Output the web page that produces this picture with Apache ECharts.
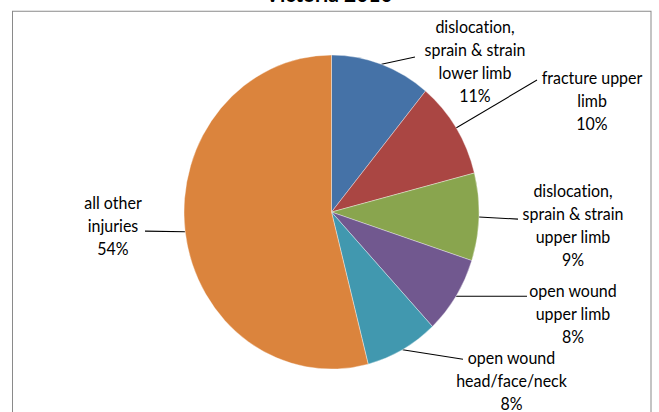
<!DOCTYPE html>
<html>
<head>
<meta charset="utf-8">
<script src="https://cdn.jsdelivr.net/npm/echarts@6/dist/echarts.min.js"></script>
<style>
  html, body { margin: 0; padding: 0; background: #fff; overflow: hidden; }
  #wrap { width: 659px; height: 412px; overflow: hidden; position: relative; }
  /* chart is laid out at 387px tall and stretched to fill the 412px frame */
  #chart { width: 659px; height: 387px; transform: scaleY(1.0646); transform-origin: 0 0; }
  #chart text { font-variant-ligatures: none !important; font-feature-settings: "liga" 0, "clig" 0 !important; }
</style>
</head>
<body>
<div id="wrap"><div id="chart"></div></div>
<script>
const chartTitle = 'Victoria 2010';
const categories = [
  'dislocation,\nsprain & strain\nlower limb',
  'fracture upper\nlimb',
  'dislocation,\nsprain & strain\nupper limb',
  'open wound\nupper limb',
  'open wound\nhead/face/neck',
  'all other\ninjuries'
];
const shares = [11, 10, 9, 8, 8, 54];
const sliceColors = ['#4572A7', '#AA4643', '#89A54E', '#71588F', '#4198AF', '#DB843D'];

// label block centres and leader-line end points (chart pixels)
const labelCentres = [[475, 57.5], [592, 95], [573, 211.5], [573, 295], [511.5, 358], [113, 212]];
const leaderEnds = [[415, 53.6], [537, 75.2], [518, 205.8], [527, 278.2], [463, 337.4], [145, 217.1]];

const chart = echarts.init(document.getElementById('chart'), null, { renderer: 'svg' });

chart.setOption({
  animation: false,
  backgroundColor: '#fff',
  color: sliceColors,
  graphic: [
    {
      type: 'rect',
      shape: { x: 12.5, y: 10.5, width: 638.5, height: 500 },
      style: { fill: 'none', stroke: '#8a8a8a', lineWidth: 1 },
      silent: true
    },
    {
      type: 'text',
      x: 329, y: -6,
      style: {
        text: chartTitle,
        font: 'bold 21px Lato',
        fill: '#000',
        align: 'center',
        verticalAlign: 'middle'
      },
      silent: true
    }
  ],
  series: [{
    type: 'pie',
    center: [331.5, 199.2],
    radius: 147.5,
    startAngle: 90,
    clockwise: true,
    itemStyle: { borderColor: 'rgba(255,255,255,0.6)', borderWidth: 0.6 },
    emphasis: { disabled: true },
    data: categories.map((name, i) => ({ name: name, value: shares[i] })),
    label: {
      show: true,
      formatter: p => p.name + '\n' + p.value + '%',
      fontFamily: 'Lato',
      fontSize: 16,
      lineHeight: 21.6,
      color: '#000',
      align: 'center'
    },
    labelLine: { show: true, lineStyle: { color: '#000', width: 1 } },
    labelLayout: function (params) {
      const i = params.dataIndex;
      const start = params.labelLinePoints ? params.labelLinePoints[0] : leaderEnds[i];
      return {
        x: labelCentres[i][0],
        y: labelCentres[i][1],
        align: 'center',
        verticalAlign: 'middle',
        labelLinePoints: [start, leaderEnds[i], leaderEnds[i]]
      };
    }
  }]
});
</script>
</body>
</html>
